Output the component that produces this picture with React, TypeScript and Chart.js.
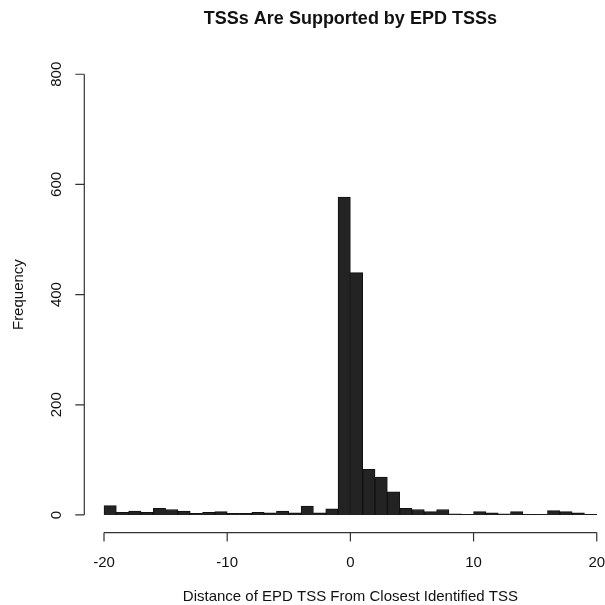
import React, { useEffect, useRef } from "react";
import { Chart, registerables } from "chart.js";

Chart.register(...registerables);

const TITLE = "TSSs Are Supported by EPD TSSs";
const X_TITLE = "Distance of EPD TSS From Closest Identified TSS";
const Y_TITLE = "Frequency";

// histogram bin left edges (width 1)
const binStarts = [
  -20, -19, -18, -17, -16, -15, -14, -13, -12, -11,
  -10, -9, -8, -7, -6, -5, -4, -3, -2, -1,
  0, 1, 2, 3, 4, 5, 6, 7, 8, 9,
  10, 11, 12, 13, 14, 15, 16, 17, 18, 19,
];
const counts = [
  17, 5, 7, 5, 12, 10, 7, 3, 5, 6,
  3, 3, 5, 4, 7, 4, 16, 4, 11, 577,
  440, 83, 69, 42, 12, 10, 6, 10, 2, 1,
  6, 4, 2, 6, 1, 1, 8, 6, 4, 1,
];
const xTicks = [-20, -10, 0, 10, 20];
const yTicks = [0, 200, 400, 600, 800];

const FONT = "'Liberation Sans', Arial, Helvetica, sans-serif";

const axesPlugin = {
  id: "rAxes",
  afterDraw(chart: any) {
    const ctx = chart.ctx as CanvasRenderingContext2D;
    const xs = chart.scales.x;
    const ys = chart.scales.y;
    const area = chart.chartArea;
    ctx.save();
    ctx.strokeStyle = "#333";
    ctx.lineWidth = 1.2;
    ctx.fillStyle = "#111";

    // x axis
    const yAxis = area.bottom;
    ctx.beginPath();
    ctx.moveTo(xs.getPixelForValue(xTicks[0]), yAxis);
    ctx.lineTo(xs.getPixelForValue(xTicks[xTicks.length - 1]), yAxis);
    for (const t of xTicks) {
      const px = xs.getPixelForValue(t);
      ctx.moveTo(px, yAxis);
      ctx.lineTo(px, yAxis + 9);
    }
    ctx.stroke();
    ctx.font = `15px ${FONT}`;
    ctx.textAlign = "center";
    ctx.textBaseline = "middle";
    for (const t of xTicks) {
      ctx.fillText(String(t), xs.getPixelForValue(t), yAxis + 30);
    }

    // y axis
    const xAxis = area.left;
    ctx.beginPath();
    ctx.moveTo(xAxis, ys.getPixelForValue(yTicks[0]));
    ctx.lineTo(xAxis, ys.getPixelForValue(yTicks[yTicks.length - 1]));
    for (const t of yTicks) {
      const py = ys.getPixelForValue(t);
      ctx.moveTo(xAxis, py);
      ctx.lineTo(xAxis - 9, py);
    }
    ctx.stroke();
    for (const t of yTicks) {
      const py = ys.getPixelForValue(t);
      ctx.save();
      ctx.translate(xAxis - 27, py);
      ctx.rotate(-Math.PI / 2);
      ctx.fillText(String(t), 0, 0);
      ctx.restore();
    }

    // titles
    const cx = xs.getPixelForValue(0);
    ctx.font = `bold 18px ${FONT}`;
    ctx.fillText(TITLE, cx, 19);
    ctx.font = `15px ${FONT}`;
    ctx.fillText(X_TITLE, cx, 597);
    ctx.save();
    ctx.translate(19, (area.top + area.bottom) / 2);
    ctx.rotate(-Math.PI / 2);
    ctx.fillText(Y_TITLE, 0, 0);
    ctx.restore();
    ctx.restore();
  },
};

export default function App() {
  const ref = useRef<HTMLCanvasElement | null>(null);
  useEffect(() => {
    if (!ref.current) return;
    const chart = new Chart(ref.current, {
      type: "bar",
      data: {
        datasets: [
          {
            data: binStarts.map((b, i) => ({ x: b + 0.5, y: counts[i] })),
            backgroundColor: "#232323",
            borderColor: "#111111",
            borderWidth: 1,
            barPercentage: 1,
            categoryPercentage: 1,
          },
        ],
      },
      options: {
        animation: false,
        responsive: true,
        maintainAspectRatio: false,
        layout: { padding: { left: 84.3, right: 0, top: 56.6, bottom: 72.4 } },
        plugins: { legend: { display: false }, tooltip: { enabled: false } },
        scales: {
          x: { type: "linear", min: -21.6, max: 20.67, offset: false, display: false },
          y: { type: "linear", min: -32, max: 832, display: false },
        },
      },
      plugins: [axesPlugin],
    });
    return () => chart.destroy();
  }, []);
  return (
    <div style={{ position: "fixed", left: 0, top: 0, width: 605, height: 605, background: "#fff" }}>
      <canvas ref={ref} />
    </div>
  );
}
